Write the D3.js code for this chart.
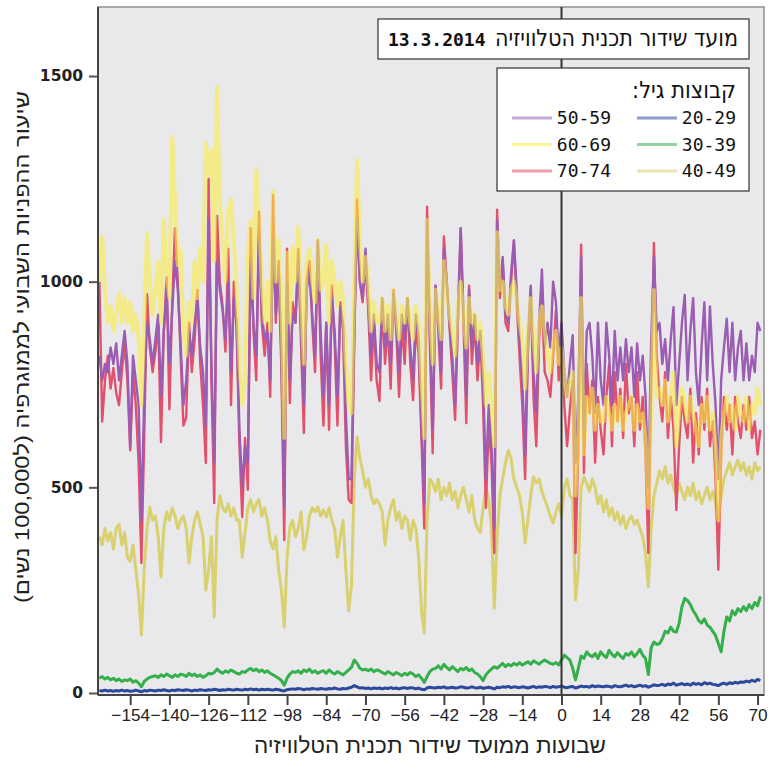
<!DOCTYPE html>
<html><head><meta charset="utf-8">
<script src="https://cdn.jsdelivr.net/npm/d3@7"></script>
<style>body{margin:0;background:#fff}</style>
</head><body><svg id="c" width="776" height="773"></svg>
<script>
// ---------- DATA ----------
const firstWeek = -165;
const xTickValues = [-154,-140,-126,-112,-98,-84,-70,-56,-42,-28,-14,0,14,28,42,56,70];
const yTickValues = [0,500,1000,1500];
const groupNames = ["20-29","30-39","40-49","50-59","60-69","70-74"];

const age20_29 = [6,5,7,5,6,4,6,5,7,5, 6,4,5,7,5,3,6,5,7,6, 5,7,6,8,6,5,7,6,8,7, 6,8,7,5,7,6,8,7,6,8,
 7,9,8,6,8,7,9,8,7,9, 8,7,9,8,10,8,9,7,9,8, 9,8,7,9,8,6,5,8,9,10, 9,11,10,8,10,9,11,10,9,11,
 10,9,11,10,12,10,9,11,10,12, 14,18,15,12,13,11,12,10,12,11, 12,10,12,11,13,11,12,10,12,13, 11,13,12,10,12,9,8,12,14,13,
 12,14,13,15,12,13,14,12,13,15, 14,12,13,15,13,12,14,11,13,14, 12,10,14,13,15,14,16,13,15,14, 13,15,14,12,14,16,13,15,14,16,
 15,13,16,14,15,17,14,13,15,16, 12,14,17,15,16,14,18,15,17,16, 15,17,16,14,18,16,15,17,19,16, 18,15,17,19,16,18,14,17,20,18,
 19,21,18,22,20,24,19,21,23,20, 22,19,24,21,23,20,25,22,24,21, 20,18,22,24,21,25,23,26,24,27, 26,29,27,31,28,33,30];

const age30_39 = [36,40,34,38,32,36,30,34,28,32, 30,34,26,30,24,15,28,34,38,40, 42,38,44,40,46,42,38,44,40,46, 44,40,48,42,46,40,44,38,42,48,
 46,50,58,52,48,54,50,56,52,48, 46,52,50,56,60,54,58,52,56,50, 54,48,44,40,36,30,19,36,46,52, 50,54,48,56,52,58,50,54,48,52,
 54,48,56,50,46,52,48,44,50,56, 62,80,72,60,56,58,54,58,52,56, 54,50,46,52,48,44,50,46,42,48, 44,50,46,40,44,36,26,40,52,58,
 60,66,58,70,62,56,64,58,52,60, 56,62,54,58,50,46,40,30,44,52, 58,64,60,66,72,64,70,66,72,68, 74,68,72,76,70,78,74,70,76,80,
 76,72,70,74,68,80,92,86,80,60, 32,60,90,84,100,92,88,96,84,100, 92,86,104,94,88,98,90,84,96,92, 100,88,96,106,92,84,45,110,124,118,
 120,132,150,146,160,150,148,170,210,230, 225,215,200,190,176,170,180,165,160,150, 140,120,100,150,185,175,200,190,205,198, 210,200,215,205,220,212,235];

const age40_49 = [380,360,400,370,390,350,400,410,360,390, 330,320,360,300,240,141,300,400,452,420, 430,380,282,400,440,420,450,430,400,420, 430,400,316,380,420,440,410,380,250,300,
 380,185,420,480,450,440,460,430,450,420, 420,330,390,450,470,440,460,470,430,450, 420,370,350,380,300,250,160,330,404,420, 380,400,440,348,380,430,450,440,452,430,
 445,428,450,420,400,330,380,420,300,200, 260,520,622,570,540,500,520,480,460,470, 460,440,360,420,450,470,420,440,400,430, 420,372,420,400,330,200,146,420,520,510,
 490,520,470,500,480,510,470,490,450,480, 500,470,440,480,420,400,390,450,500,470, 400,206,380,480,520,560,590,570,520,500, 480,440,365,420,480,525,510,520,490,470,
 452,430,413,440,460,430,500,520,480,470, 226,300,500,525,510,490,520,500,460,480, 440,470,430,450,420,440,410,430,400,420, 430,410,420,400,380,340,258,400,480,510,
 540,520,550,510,530,500,480,510,490,470, 500,480,510,470,490,460,480,500,470,490, 460,420,480,520,540,560,530,550,566,540, 560,530,550,520,560,540,550];

const age50_59 = [820,760,800,780,840,800,850,760,820,880, 800,600,820,760,700,420,720,900,860,800, 860,920,720,880,980,800,930,1050,980,850, 700,760,880,820,900,960,840,780,650,1150,
 800,560,1050,980,930,860,1000,780,960,900, 640,500,600,560,1050,900,820,1100,920,860, 880,760,1100,920,1030,820,450,1000,760,920, 900,1050,880,700,980,1020,920,820,1100,880,
 720,900,700,960,880,720,940,900,680,520, 520,880,1150,1000,960,1080,950,820,920,800, 780,960,840,920,800,970,900,780,920,860, 960,840,760,920,860,640,460,1150,880,640,
 990,900,780,1080,1000,900,820,700,920,1130, 920,720,980,840,920,800,880,760,520,700, 600,400,1150,980,1060,920,900,1020,1100,980, 860,760,580,860,990,780,680,900,1030,840,
 900,840,1000,950,820,900,780,720,800,870, 560,720,1060,640,880,900,820,680,900,760, 700,900,820,700,880,760,840,760,860,780, 840,720,850,760,820,720,500,850,1060,880,
 900,800,860,760,860,938,700,800,900,968, 760,880,960,780,700,840,950,760,940,800, 700,520,760,840,910,780,900,760,840,880, 760,850,760,820,780,900,880];

const age60_69 = [1000,1109,980,900,940,880,920,972,900,960, 900,950,880,920,860,700,900,1118,1000,920, 980,1050,900,1150,1020,960,1352,1200,1040,1077, 880,820,950,900,1050,960,1080,1000,1337,1260,
 1320,1050,1473,1200,1100,1000,1174,1199,1100,980, 800,700,760,1060,1150,960,1272,1150,1000,900, 1000,880,1220,1000,1100,950,620,1070,900,1085, 1000,1133,960,800,1050,1080,1000,950,1101,980,
 1000,1090,900,1050,1000,940,1000,960,800,700, 680,1000,1296,1100,1000,1060,1000,880,950,900, 900,960,880,940,860,980,920,860,940,900, 960,900,860,940,900,760,620,1150,940,800,
 980,920,860,1050,980,920,880,820,940,1000, 920,840,960,900,920,860,900,820,700,780, 700,600,1120,980,1000,940,920,980,1000,960, 900,860,740,880,960,860,780,900,940,880,
 820,780,850,880,800,840,760,720,760,780, 480,620,960,580,720,680,740,640,700,660, 660,720,680,640,700,660,720,640,680,700, 720,640,700,660,680,620,450,680,980,720,
 740,700,760,660,720,780,600,680,740,700, 660,720,680,640,600,700,660,720,640,680, 600,420,620,680,720,660,700,640,720,680, 660,720,640,700,680,740,700];

const age70_74 = [1000,660,760,820,740,790,730,700,780,850, 760,590,780,700,560,316,620,970,840,780, 830,900,610,880,1010,690,950,1130,1000,820, 650,670,900,780,860,980,800,700,559,1250,
 760,462,1160,1000,940,830,1080,700,1000,880, 600,428,620,494,1130,880,760,1170,900,820, 900,720,1210,900,1050,780,372,1080,705,950, 900,1080,850,632,1000,1050,900,780,1100,820,
 650,900,640,990,850,650,950,880,600,470, 462,850,1200,1000,950,1050,930,760,900,760, 710,950,800,900,740,980,880,720,900,800, 960,800,712,900,820,620,400,1182,850,583,
 990,880,740,1110,1000,890,780,664,900,1130, 900,656,990,800,900,760,870,700,450,650, 560,340,1175,960,1050,900,880,1000,1100,950, 820,700,520,820,980,720,600,860,960,780,
 760,720,820,930,760,880,700,600,690,760, 340,600,1090,535,800,680,760,560,720,640, 580,720,800,600,780,660,740,620,800,680, 720,600,780,640,720,580,340,740,1094,820,
 720,660,780,620,720,640,445,600,720,660, 620,740,560,680,580,720,640,740,600,660, 520,300,580,720,640,700,580,720,660,620, 700,640,720,620,660,580,640];

const seriesValues = [age20_29, age30_39, age40_49, age50_59, age60_69, age70_74];

// ---------- STYLE ----------
const colors = ["#2c4a9c","#34b04a","#d9d070","#9b5cb3","#f9ec45","#e2506b"];
const widths = [3,3,3,2.4,4,2.4];
const opac = [1,1,1,1,0.6,1];
const drawOrder = [2,1,0,5,3,4];

const svg = d3.select("#c");
const L=98, R=764, T=7, B=695;
const x = d3.scaleLinear().domain([-165.5,72.3]).range([L,R]);
const y = d3.scaleLinear().domain([0,1500]).range([693,76]);

function fitWidth(sel, w){
  const n = sel.node();
  const cur = n.getComputedTextLength();
  const fs = parseFloat(sel.attr("font-size"));
  if (cur > 0) sel.attr("font-size", (fs*w/cur).toFixed(2));
  return sel;
}

svg.append("rect").attr("x",L).attr("y",T).attr("width",R-L).attr("height",B-T)
  .attr("fill","#e9e9eb").attr("stroke","#a8a8a8").attr("stroke-width",2);

svg.append("clipPath").attr("id","pc").append("rect")
  .attr("x",L).attr("y",T).attr("width",R-L).attr("height",B-T);
const g = svg.append("g").attr("clip-path","url(#pc)");

const line = d3.line().x((d,i)=>x(firstWeek+i)).y(d=>y(d));
drawOrder.forEach(k=>{
  g.append("path").datum(seriesValues[k]).attr("d",line)
   .attr("fill","none").attr("stroke",colors[k]).attr("stroke-width",widths[k])
   .attr("stroke-opacity",opac[k]).attr("stroke-linejoin","round");
});

// vertical reference line at week 0
svg.append("line").attr("x1",x(0)).attr("x2",x(0)).attr("y1",T).attr("y2",B)
  .attr("stroke","#333").attr("stroke-width",2);

// axes
const yAxis = d3.axisLeft(y).tickValues(yTickValues).tickSize(9).tickPadding(6).tickFormat(d3.format("d"));
const ya = svg.append("g").attr("transform",`translate(${L},0)`).call(yAxis);
ya.select(".domain").remove();
ya.selectAll("line").attr("stroke","#555").attr("stroke-width",2);
ya.selectAll("text").attr("font-family","DejaVu Sans").attr("font-size",15.5).attr("font-weight","bold").attr("fill","#222");
svg.append("line").attr("x1",L).attr("x2",L).attr("y1",T).attr("y2",B).attr("stroke","#444").attr("stroke-width",2);

const xAxis = d3.axisBottom(x).tickValues(xTickValues).tickSize(10).tickPadding(4)
  .tickFormat(d=> d<0 ? "\u2212"+Math.abs(d) : String(d));
const xa = svg.append("g").attr("transform",`translate(0,${B})`).call(xAxis);
xa.select(".domain").remove();
xa.selectAll("line").attr("stroke","#444").attr("stroke-width",2);
xa.selectAll("text").attr("font-family","Liberation Sans Narrow, Liberation Sans, sans-serif").attr("font-size",17.2).attr("fill","#222");
svg.append("line").attr("x1",L).attr("x2",R).attr("y1",B).attr("y2",B).attr("stroke","#444").attr("stroke-width",2);

// axis titles
svg.append("text").attr("x",430).attr("y",753).attr("text-anchor","middle")
  .attr("font-family","Liberation Sans, DejaVu Sans, sans-serif").attr("font-size",22).attr("fill","#222")
  .attr("textLength",352).attr("lengthAdjust","spacingAndGlyphs")
  .text("שבועות ממועד שידור תכנית הטלוויזיה");
svg.append("text").attr("transform","translate(29,347) rotate(-90)").attr("text-anchor","middle")
  .attr("font-family","Liberation Sans, DejaVu Sans, sans-serif").attr("font-size",20).attr("fill","#222")
  .attr("textLength",512).attr("lengthAdjust","spacingAndGlyphs")
  .text("\u202Bשיעור ההפניות השבועי לממוגרפיה (ל100,000 נשים)\u202C");

// title box
svg.append("rect").attr("x",378).attr("y",19).attr("width",371).attr("height",40)
  .attr("fill","#fff").attr("stroke","#333").attr("stroke-width",1.2);
const tHeb = svg.append("text").attr("x",738).attr("y",46).attr("text-anchor","end")
  .attr("font-family","DejaVu Sans Condensed, DejaVu Sans, sans-serif").attr("font-size",20)
  .attr("fill","#111")
  .text("מועד שידור תכנית הטלוויזיה");
fitWidth(tHeb, 243);
svg.append("text").attr("x",388).attr("y",46).attr("text-anchor","start")
  .attr("font-family","DejaVu Sans Mono, monospace").attr("font-size",18).attr("font-weight","bold")
  .attr("fill","#111")
  .text("13.3.2014");

// legend
svg.append("rect").attr("x",497).attr("y",68).attr("width",252).attr("height",123)
  .attr("fill","#fff").attr("stroke","#333").attr("stroke-width",1.2);
const lt = svg.append("text").attr("x",736).attr("y",98).attr("text-anchor","end")
  .attr("font-family","DejaVu Sans Condensed, DejaVu Sans, sans-serif").attr("font-size",19).attr("fill","#111")
  .text("\u202Bקבוצות גיל:\u202C");
fitWidth(lt, 104);
groupNames.forEach((name,i)=>{
  const col = Math.floor(i/3), row = i%3;
  const tx = col===0 ? 736 : 611;
  const ty = 124 + row*26.5;
  svg.append("line").attr("x1",tx-99).attr("x2",tx-59).attr("y1",ty-6).attr("y2",ty-6)
    .attr("stroke",colors[i]).attr("stroke-width",3).attr("stroke-opacity",0.55);
  svg.append("text").attr("x",tx).attr("y",ty).attr("text-anchor","end")
    .attr("font-family","DejaVu Sans Mono, monospace").attr("font-size",18).attr("fill","#111")
    .text(name);
});
</script></body></html>
